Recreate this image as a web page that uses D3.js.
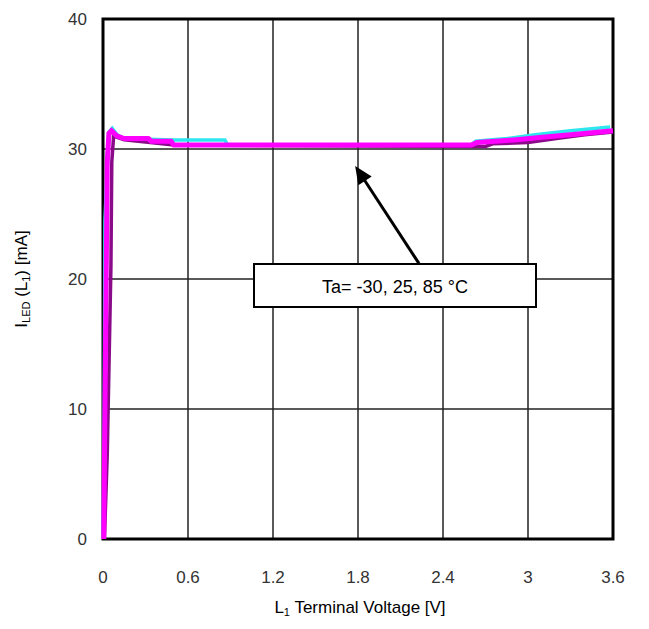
<!DOCTYPE html>
<html>
<head>
<meta charset="utf-8">
<script src="https://cdn.jsdelivr.net/npm/d3@7"></script>
<style>
  body { margin: 0; background: #fff; }
  text { font-family: "Liberation Sans", Arial, sans-serif; }
</style>
</head>
<body>
<div id="chart"></div>
<script>
// tick values
const xTicks = [0, 0.6, 1.2, 1.8, 2.4, 3, 3.6];
const yTicks = [0, 10, 20, 30, 40];

// series: [voltage V, current mA]
const cyanSeries = [[0.0, 0], [0.008, 6.5], [0.014, 24.5], [0.04, 31.3], [0.065, 31.6], [0.1, 31.1],
    [0.15, 30.8], [0.5, 30.7], [0.86, 30.7], [0.88, 30.3], [2.6, 30.3], [2.63, 30.6], [2.85, 30.8],
    [3.05, 31.1], [3.3, 31.4], [3.58, 31.7]];
const purpleSeries = [[0.01, 0], [0.03, 6.5], [0.056, 21], [0.062, 29], [0.075, 31.0], [0.1, 30.9],
    [0.15, 30.7], [0.5, 30.3], [2.7, 30.2], [2.75, 30.4], [3.0, 30.5], [3.2, 30.8], [3.4, 31.1], [3.6, 31.3]];
const magentaSeries = [[0.005, 0], [0.03, 29], [0.042, 31.2], [0.06, 31.4], [0.1, 31.0], [0.15, 30.8],
    [0.32, 30.8], [0.34, 30.6], [0.48, 30.6], [0.5, 30.3], [2.6, 30.3], [2.64, 30.5], [2.9, 30.7],
    [3.1, 30.9], [3.3, 31.1], [3.6, 31.4]];

const width = 649, height = 629;
const margin = { top: 19, right: 36, bottom: 90, left: 103 };

const svg = d3.select('#chart').append('svg')
    .attr('width', width)
    .attr('height', height);

const x = d3.scaleLinear().domain([0, 3.6]).range([margin.left, width - margin.right]);
const y = d3.scaleLinear().domain([0, 40]).range([height - margin.bottom, margin.top]);

// grid lines
svg.append('g').selectAll('line')
    .data(xTicks.slice(1, -1))
    .enter().append('line')
    .attr('x1', d => x(d)).attr('x2', d => x(d))
    .attr('y1', y(40)).attr('y2', y(0))
    .attr('stroke', '#222').attr('stroke-width', 1.5);

svg.append('g').selectAll('line')
    .data(yTicks.slice(1, -1))
    .enter().append('line')
    .attr('x1', x(0)).attr('x2', x(3.6))
    .attr('y1', d => y(d)).attr('y2', d => y(d))
    .attr('stroke', '#222').attr('stroke-width', 1.5);

// frame
svg.append('rect')
    .attr('x', x(0)).attr('y', y(40))
    .attr('width', x(3.6) - x(0)).attr('height', y(0) - y(40))
    .attr('fill', 'none').attr('stroke', '#000').attr('stroke-width', 3);

// tick labels
svg.append('g').selectAll('text')
    .data(xTicks)
    .enter().append('text')
    .attr('x', d => x(d)).attr('y', y(0) + 44)
    .attr('text-anchor', 'middle')
    .attr('fill', '#333')
    .style('font-size', '17px')
    .text(d => d);

svg.append('g').selectAll('text')
    .data(yTicks)
    .enter().append('text')
    .attr('x', x(0) - 16).attr('y', d => y(d) + 6)
    .attr('text-anchor', 'end')
    .attr('fill', '#333')
    .style('font-size', '17px')
    .text(d => d);

// curves
const line = d3.line().x(d => x(d[0])).y(d => y(d[1]));
const series = [
    { data: cyanSeries, color: '#2ee6ee', w: 3.5 },
    { data: purpleSeries, color: '#8a0a8a', w: 3.5 },
    { data: magentaSeries, color: '#ff00ff', w: 5 }
];
svg.append('g').selectAll('path')
    .data(series)
    .enter().append('path')
    .attr('d', d => line(d.data))
    .attr('fill', 'none')
    .attr('stroke', d => d.color)
    .attr('stroke-width', d => d.w)
    .attr('stroke-linejoin', 'miter');

// annotation arrow
const ax = x(1.78), ay = y(28.7), bx = x(2.23), by = y(21.2);
const ang = Math.atan2(by - ay, bx - ax);
const hl = 18, hw = 8;
svg.append('line')
    .attr('x1', bx).attr('y1', by)
    .attr('x2', ax + 10 * Math.cos(ang)).attr('y2', ay + 10 * Math.sin(ang))
    .attr('stroke', '#000').attr('stroke-width', 3);
svg.append('path')
    .attr('d', `M${ax},${ay}
        L${ax + hl * Math.cos(ang) - hw * Math.sin(ang)},${ay + hl * Math.sin(ang) + hw * Math.cos(ang)}
        L${ax + hl * Math.cos(ang) + hw * Math.sin(ang)},${ay + hl * Math.sin(ang) - hw * Math.cos(ang)} Z`)
    .attr('fill', '#000');

// annotation box
svg.append('rect')
    .attr('x', 254).attr('y', 264)
    .attr('width', 282).attr('height', 43)
    .attr('fill', '#fff').attr('stroke', '#000').attr('stroke-width', 2);
svg.append('text')
    .attr('x', 395).attr('y', 293)
    .attr('text-anchor', 'middle')
    .style('font-size', '18px')
    .text('Ta= -30, 25, 85 °C');

// axis titles
const xt = svg.append('text')
    .attr('x', (x(0) + x(3.6)) / 2 + 2).attr('y', 613)
    .attr('text-anchor', 'middle')
    .style('font-size', '17px');
xt.append('tspan').text('L');
xt.append('tspan').attr('dy', 3).style('font-size', '11px').text('1');
xt.append('tspan').attr('dy', -3).text(' Terminal Voltage [V]');

const yt = svg.append('text')
    .attr('transform', `translate(27,${(y(0) + y(40)) / 2}) rotate(-90)`)
    .attr('text-anchor', 'middle')
    .style('font-size', '17px');
yt.append('tspan').text('I');
yt.append('tspan').attr('dy', 3).style('font-size', '11px').text('LED');
yt.append('tspan').attr('dy', -3).text(' (L');
yt.append('tspan').attr('dy', 3).style('font-size', '11px').text('1');
yt.append('tspan').attr('dy', -3).text(') [mA]');
</script>
</body>
</html>
